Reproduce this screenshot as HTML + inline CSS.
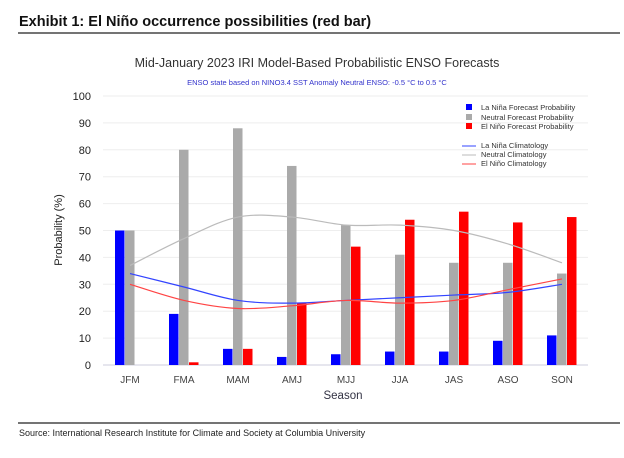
<!DOCTYPE html>
<html><head><meta charset="utf-8"><style>
body{margin:0;background:#fff;width:624px;height:453px;overflow:hidden;font-family:"Liberation Sans",sans-serif}
</style></head><body>
<svg id="s" width="624" height="453" xmlns="http://www.w3.org/2000/svg" font-family="Liberation Sans, sans-serif">
<text x="19" y="26" font-size="14.5" font-weight="bold" fill="#111">Exhibit 1: El Niño occurrence possibilities (red bar)</text>
<line x1="18" y1="33" x2="620" y2="33" stroke="#222" stroke-width="1.2"/>
<text x="317" y="67" font-size="12.5" fill="#333" text-anchor="middle">Mid-January 2023 IRI Model-Based Probabilistic ENSO Forecasts</text>
<text x="317" y="85" font-size="7.5" fill="#3333cc" text-anchor="middle">ENSO state based on NINO3.4 SST Anomaly Neutral ENSO: -0.5 °C to 0.5 °C</text>
<g id="g"></g>
<text transform="translate(62,230) rotate(-90)" font-size="11" fill="#222" text-anchor="middle">Probability (%)</text>
<text x="343" y="399" font-size="11.5" fill="#334" text-anchor="middle">Season</text>
<g font-size="7.5" fill="#333">
<rect x="466" y="104" width="6" height="6" fill="#0000ff"/><text x="481" y="110">La Niña Forecast Probability</text>
<rect x="466" y="114" width="6" height="6" fill="#aaa"/><text x="481" y="120">Neutral Forecast Probability</text>
<rect x="466" y="123" width="6" height="6" fill="#f00"/><text x="481" y="129">El Niño Forecast Probability</text>
<line x1="462" y1="146" x2="476" y2="146" stroke="#3344ff"/><text x="481" y="148">La Niña Climatology</text>
<line x1="462" y1="155" x2="476" y2="155" stroke="#bbb"/><text x="481" y="157">Neutral Climatology</text>
<line x1="462" y1="164" x2="476" y2="164" stroke="#ff4444"/><text x="481" y="166">El Niño Climatology</text>
</g>
<line x1="18" y1="423" x2="620" y2="423" stroke="#222" stroke-width="1.2"/>
<text x="19" y="436" font-size="9" fill="#222">Source: International Research Institute for Climate and Society at Columbia University</text>
</svg>
<script>
var g=document.getElementById('g'),h='';
function Y(v){return 365-v*2.69;}
for(var v=0;v<=100;v+=10){h+='<line x1="103" x2="588" y1="'+Y(v)+'" y2="'+Y(v)+'" stroke="'+(v?'#eee':'#ccd')+'"/>';
h+='<text x="91" y="'+(Y(v)+4)+'" font-size="11" fill="#222" text-anchor="end">'+v+'</text>';}
var S=['JFM','FMA','MAM','AMJ','MJJ','JJA','JAS','ASO','SON'];
var L=[50,19,6,3,4,5,5,9,11],N=[50,80,88,74,52,41,38,38,34],E=[0,1,6,23,44,54,57,53,55];
var cl=[34,29,24,23,24,25,26,27,30],cn=[37,47,55,55,52,52,50,45,38],ce=[30,24,21,22,24,23,24,28,32];
function C(i){return 130+54*i;}
function bar(x,v,c){if(v>0)h+='<rect x="'+x+'" y="'+Y(v)+'" width="9.5" height="'+(v*2.69)+'" fill="'+c+'"/>';}
for(var i=0;i<9;i++){var c=C(i);bar(c-15,L[i],'#0000ff');bar(c-5,N[i],'#aaa');bar(c+5,E[i],'#ff0000');
h+='<text x="'+c+'" y="383" font-size="10" fill="#444" text-anchor="middle">'+S[i]+'</text>';}
function path(a,col){var p=a.map(function(v,i){return [C(i),Y(v)];});var d='M'+p[0][0]+','+p[0][1];
for(var i=0;i<p.length-1;i++){var p0=p[Math.max(i-1,0)],p1=p[i],p2=p[i+1],p3=p[Math.min(i+2,p.length-1)];
d+=' C'+(p1[0]+(p2[0]-p0[0])/6)+','+(p1[1]+(p2[1]-p0[1])/6)+' '+(p2[0]-(p3[0]-p1[0])/6)+','+(p2[1]-(p3[1]-p1[1])/6)+' '+p2[0]+','+p2[1];}
h+='<path d="'+d+'" fill="none" stroke="'+col+'" stroke-width="1.2"/>';}
path(cn,'#bbb');path(cl,'#3344ff');path(ce,'#ff4444');
g.innerHTML=h;
</script>
</body></html>
